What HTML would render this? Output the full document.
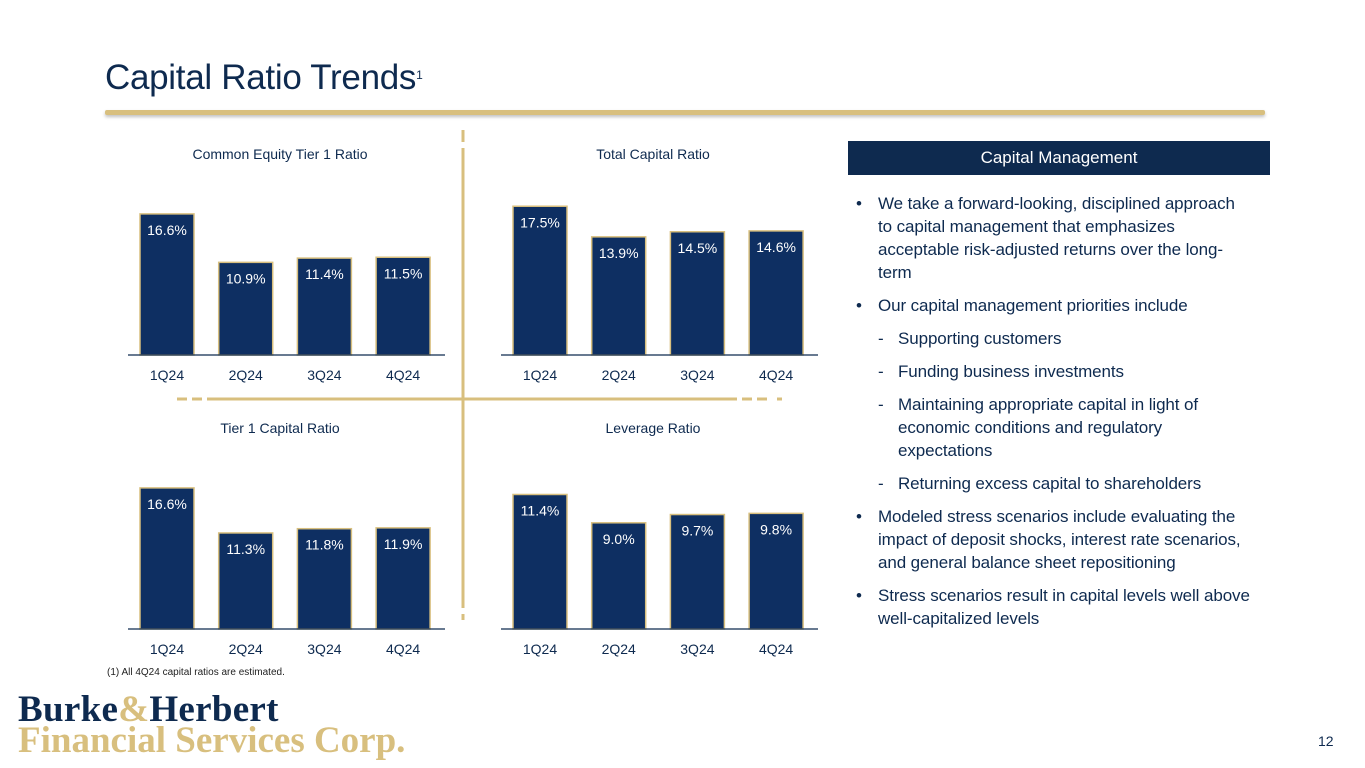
<!DOCTYPE html>
<html><head><meta charset="utf-8"><style>
body{margin:0;width:1365px;height:768px;background:#fff;position:relative;overflow:hidden;font-family:"Liberation Sans",sans-serif;color:#0E2A4F}
.abs{position:absolute}
#title{left:105px;top:58px;font-size:35px;color:#0E2A4F;letter-spacing:-0.3px}
#title sup{font-size:12px;vertical-align:top;position:relative;top:10px}
#rule{left:105px;top:110px;width:1160px;height:5px;background:#D8BF7E;box-shadow:0 2px 3px rgba(0,0,0,.25);border-radius:2px}
#hdr{left:848px;top:141px;width:422px;height:34px;background:#0E2A4F;color:#fff;font-size:17px;text-align:center;line-height:34px}
#bul{left:848px;top:192px;width:440px;font-size:17px;line-height:23px;white-space:nowrap;letter-spacing:-0.1px}
#bul p{margin:0 0 10px 0;position:relative;padding-left:30px}
#bul p.b:before{content:"•";position:absolute;left:8px}
#bul p.d{padding-left:50px}
#bul p.d:before{content:"-";position:absolute;left:30px}
#foot{left:107px;top:667px;font-size:10px;color:#222}
#logo1{left:18px;top:688px;font-family:"Liberation Serif",serif;font-weight:bold;font-size:37px;color:#0E2A4F;letter-spacing:0.3px}
#logo2{left:18px;top:719px;font-family:"Liberation Serif",serif;font-weight:bold;font-size:37px;color:#D8BF7E;letter-spacing:0px}
#pg{left:1318px;top:733px;font-size:14px;color:#0E2A4F}
</style></head><body>
<div id="title" class="abs">Capital Ratio Trends<sup>1</sup></div>
<div id="rule" class="abs"></div>
<svg class="abs" style="left:0;top:0" width="1365" height="768">
<g id="dividers">
<line x1="463" y1="130" x2="463" y2="620" stroke="#D8BF7E" stroke-width="3" stroke-dasharray="12,6,460,6,12"/>
<line x1="177" y1="399" x2="787" y2="399" stroke="#D8BF7E" stroke-width="3" stroke-dasharray="10,5,10,5,530,5,10,5,10"/>
</g>
<g id="g"></g>
</svg>
<div id="hdr" class="abs">Capital Management</div>
<div id="bul" class="abs">
<p class="b">We take a forward-looking, disciplined approach<br>to capital management that emphasizes<br>acceptable risk-adjusted returns over the long-<br>term</p>
<p class="b">Our capital management priorities include</p>
<p class="d">Supporting customers</p>
<p class="d">Funding business investments</p>
<p class="d">Maintaining appropriate capital in light of<br>economic conditions and regulatory<br>expectations</p>
<p class="d">Returning excess capital to shareholders</p>
<p class="b">Modeled stress scenarios include evaluating the<br>impact of deposit shocks, interest rate scenarios,<br>and general balance sheet repositioning</p>
<p class="b">Stress scenarios result in capital levels well above<br>well-capitalized levels</p>
</div>
<div id="foot" class="abs">(1) All 4Q24 capital ratios are estimated.</div>
<div id="logo1" class="abs">Burke<span style="color:#D8BF7E">&amp;</span>Herbert</div>
<div id="logo2" class="abs">Financial Services Corp.</div>
<div id="pg" class="abs">12</div>
<script>
const categories=["1Q24","2Q24","3Q24","4Q24"];
const chartTitles=["Common Equity Tier 1 Ratio","Total Capital Ratio","Tier 1 Capital Ratio","Leverage Ratio"];
const cet1Values=[16.6,10.9,11.4,11.5];
const totalCapitalValues=[17.5,13.9,14.5,14.6];
const tier1Values=[16.6,11.3,11.8,11.9];
const leverageValues=[11.4,9.0,9.7,9.8];
const series=[cet1Values,totalCapitalValues,tier1Values,leverageValues];
const layouts=[{x:128,base:355,scale:8.5},{x:501,base:355,scale:8.5},{x:128,base:629,scale:8.5},{x:501,base:629,scale:11.8}];
const NS="http://www.w3.org/2000/svg",g=document.getElementById('g');
function mk(t,a,txt){const e=document.createElementNS(NS,t);for(const k in a)e.setAttribute(k,a[k]);if(txt!=null)e.textContent=txt;g.appendChild(e);return e;}
series.forEach((vals,ci)=>{
 const L=layouts[ci];const step=78.7,bw=54;
 const xs=i=>L.x+12+i*step;
 const ys=v=>L.base-v*L.scale;
 const t=mk('text',{x:L.x+152,y:L.base-196,'text-anchor':'middle','font-size':14,fill:'#0E2A4F'},chartTitles[ci]);
 
 
 vals.forEach((v,i)=>{
  const r=mk('rect',{x:xs(i),y:ys(v),width:bw,height:v*L.scale,fill:'#0E2F62',stroke:'#D8BF7E','stroke-width':1.5});
  
  
  const l=mk('text',{x:xs(i)+bw/2,y:ys(v)+21,'text-anchor':'middle','font-size':14,fill:'#fff'},v.toFixed(1)+'%');
  
  
  const c=mk('text',{x:xs(i)+bw/2,y:L.base+25,'text-anchor':'middle','font-size':14,fill:'#0E2A4F'},categories[i]);
  
  
 });
 const ax=mk('line',{x1:L.x,y1:L.base,x2:L.x+317,y2:L.base,stroke:'#0E2A4F','stroke-width':1.2});
 
 
});
</script>
</body></html>
